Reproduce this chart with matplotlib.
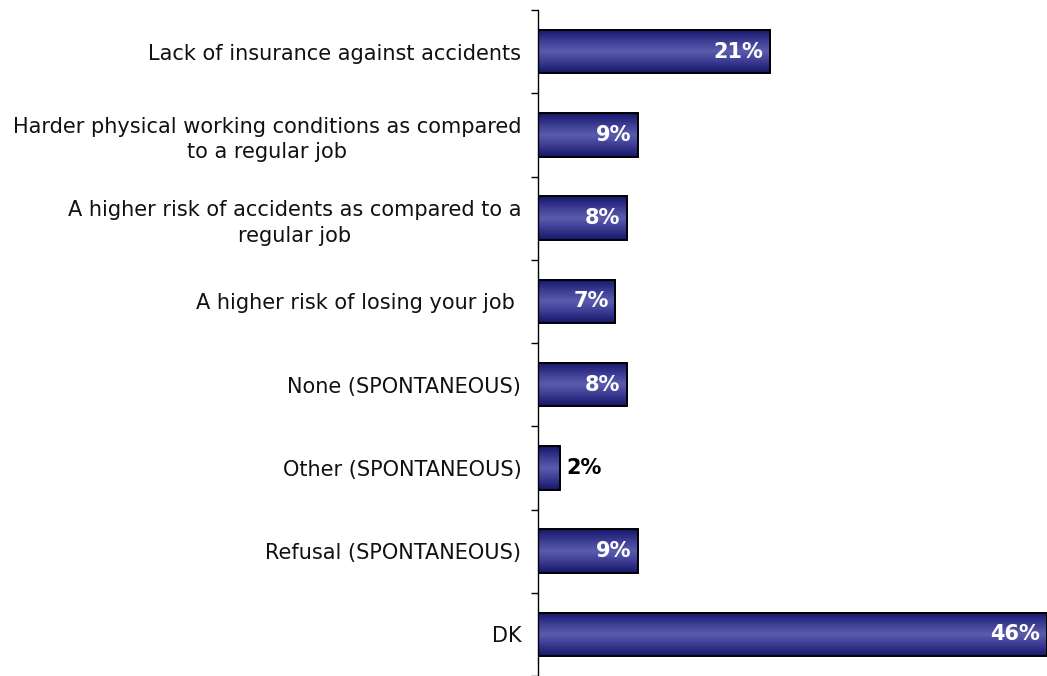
import matplotlib
matplotlib.use("Agg")
import matplotlib.pyplot as plt
import numpy as np
from matplotlib.colors import LinearSegmentedColormap

categories = [
    "Lack of insurance against accidents",
    "Harder physical working conditions as compared\nto a regular job",
    "A higher risk of accidents as compared to a\nregular job",
    "A higher risk of losing your job ",
    "None (SPONTANEOUS)",
    "Other (SPONTANEOUS)",
    "Refusal (SPONTANEOUS)",
    "DK",
]
values = [21, 9, 8, 7, 8, 2, 9, 46]
labels = ["21%", "9%", "8%", "7%", "8%", "2%", "9%", "46%"]

plt.rcParams['font.family'] = ['DejaVu Sans']

fig = plt.figure(figsize=(10.47, 6.76), dpi=100)
ax = fig.add_axes([538/1047, 0.0, 1 - 538/1047, 1 - 10/676])

n = len(categories)
ypos = np.arange(n)
h = 0.52

cmap = LinearSegmentedColormap.from_list(
    "g", ["#16166a", "#3a3a92", "#5c5cae", "#3a3a92", "#16166a"])
grad = np.linspace(0, 1, 64).reshape(-1, 1)

bars = ax.barh(ypos, values, height=h, facecolor="none",
               edgecolor="#000000", linewidth=1.4, zorder=3)
for y, v in zip(ypos, values):
    ax.imshow(grad, cmap=cmap, aspect="auto",
              extent=(0, v, y + h/2, y - h/2), zorder=2, interpolation="bilinear")

for y, v, lab in zip(ypos, values, labels):
    if v >= 5:
        ax.text(v - 0.6, y, lab, ha="right", va="center", color="white",
                fontsize=15, fontweight="bold", zorder=4)
    else:
        ax.text(v + 0.55, y, lab, ha="left", va="center", color="black",
                fontsize=15, fontweight="bold", zorder=4)

ax.set_xlim(0, 46)
ax.set_ylim(n - 0.5, -0.5)
ax.set_yticks(ypos)
ax.set_yticklabels(categories, fontsize=15, ha="right", multialignment="center",
                   linespacing=1.35, color="#111111")
ax.tick_params(axis="y", which="major", length=0, pad=12)
ax.set_yticks(np.arange(-0.5, n, 1.0), minor=True)
ax.tick_params(axis="y", which="minor", length=5, width=1, direction="out")
ax.set_xticks([])
for s in ["top", "right", "bottom"]:
    ax.spines[s].set_visible(False)
ax.spines["left"].set_linewidth(1)

fig.savefig("out.png", dpi=100)
